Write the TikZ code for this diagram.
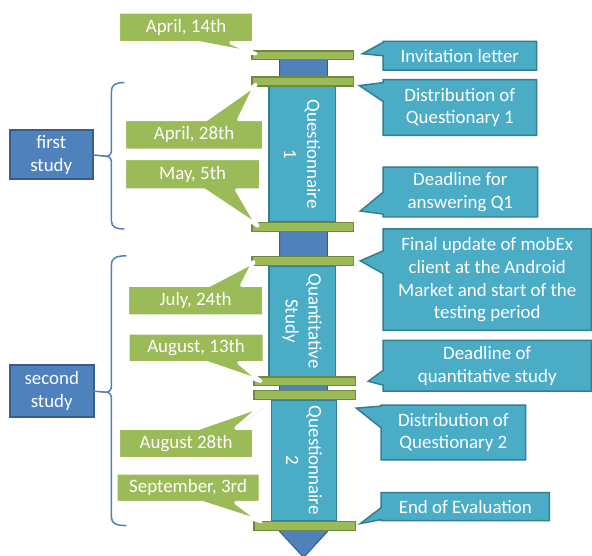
\documentclass[tikz,border=0pt]{standalone}
\usepackage{fontspec}
\setmainfont{Carlito}
\usetikzlibrary{calc,shadows}
\definecolor{gfill}{HTML}{9BBB59}
\definecolor{gline}{HTML}{71893F}
\definecolor{tfill}{HTML}{4BACC6}
\definecolor{tline}{HTML}{357D91}
\definecolor{bfill}{HTML}{4F81BD}
\definecolor{bline}{HTML}{385D8A}
\pgfdeclarelayer{bg}
\pgfdeclarelayer{mid}
\pgfsetlayers{bg,mid,main}
% callout outlines built on a text node: node, base1, base2, tip, style
\newcommand\pbottom[5]{\path[#5] (#1.north west) -- (#1.north east) -- (#1.south east) -- ($(#1.south west)+(#3,0)$) -- (#4) -- ($(#1.south west)+(#2,0)$) -- (#1.south west) -- cycle;}
\newcommand\ptop[5]{\path[#5] (#1.south west) -- (#1.north west) -- ($(#1.north west)+(#2,0)$) -- (#4) -- ($(#1.north west)+(#3,0)$) -- (#1.north east) -- (#1.south east) -- cycle;}
\newcommand\pleft[5]{\path[#5] (#1.north east) -- (#1.south east) -- (#1.south west) -- ($(#1.north west)+(0,#3)$) -- (#4) -- ($(#1.north west)+(0,#2)$) -- (#1.north west) -- cycle;}
\tikzset{
  txt/.style={font=\fontsize{19}{23}\selectfont, text=white, align=center, inner sep=0pt, outer sep=0pt},
  gcall/.style={fill=gfill, draw=white, line width=3.5, line join=round,
    drop shadow={opacity=0.25, shadow xshift=1.5pt, shadow yshift=-1.5pt}},
  tcall/.style={fill=tfill, draw=tline, line width=1.5},
  bar/.style={rectangle, fill=gfill, draw=gline, line width=1.5, inner sep=0pt, outer sep=0pt, minimum width=102, minimum height=9},
  phase/.style={txt, rectangle, fill=tfill, draw=tline, line width=1.5, rotate=-90},
  lbox/.style={txt, rectangle, fill=bfill, draw=bline, line width=2},
  brace/.style={draw=bfill, line width=1.5},
}
\begin{document}
\begin{tikzpicture}[x=1pt, y=-1pt]
\begin{pgfonlayer}{bg}
  \path[use as bounding box, fill=white] (0,0) rectangle (592,558);
  % spine arrow
  \path[fill=bfill, draw=bline, line width=1] (281,56) -- (329,56) -- (329,534) -- (305,560) -- (281,534) -- cycle;
  % phases
  \node[phase, minimum width=136, minimum height=67] (q1) at (303.5,155) {Questionnaire\\1};
  \node[phase, minimum width=111, minimum height=67] (qs) at (303.5,322.5) {Quantitative\\Study};
  \node[phase, minimum width=121, minimum height=65] (q2) at (305.5,462.5) {Questionnaire\\2};
  % bars
  \node[bar] (b1) at (304,55.5) {};
  \node[bar] (b2) at (304,82) {};
  \node[bar] (b3) at (304,228) {};
  \node[bar] (b4) at (304,262) {};
  \node[bar] (b5) at (306,383) {};
  \node[bar] (b6) at (306,397) {};
  \node[bar] (b7) at (306,528.5) {};
\end{pgfonlayer}

% green date callouts (text nodes)
\node[txt, minimum width=136, minimum height=31] (d1) at (187,27.5) {April, 14th};
\node[txt, minimum width=140, minimum height=31] (d2) at (195,135.5) {April, 28th};
\node[txt, minimum width=137, minimum height=32] (d3) at (193.5,175) {May, 5th};
\node[txt, minimum width=137, minimum height=31] (d4) at (196.5,302) {July, 24th};
\node[txt, minimum width=137, minimum height=30] (d5) at (197,349.5) {August, 13th};
\node[txt, minimum width=136, minimum height=31] (d6) at (187,445.5) {August 28th};
\node[txt, minimum width=145, minimum height=30] (d7) at (189,490) {September, 3rd};

% teal event callouts (text nodes)
\node[txt, minimum width=154, minimum height=29] (r1) at (462,56) {Invitation letter};
\node[txt, minimum width=154, minimum height=56] (r2) at (462,108) {Distribution of\\Questionary 1};
\node[txt, minimum width=155, minimum height=50] (r3) at (462.5,193) {Deadline for\\answering Q1};
\node[txt, minimum width=209, minimum height=102] (r4) at (489.5,281) {Final update of mobEx\\client at the Android\\Market and start of the\\testing period};
\node[txt, minimum width=209, minimum height=51] (r5) at (489.5,367.5) {Deadline of\\quantitative study};
\node[txt, minimum width=145, minimum height=55] (r6) at (455.5,434.5) {Distribution of\\Questionary 2};
\node[txt, minimum width=169, minimum height=28] (r7) at (467.5,509) {End of Evaluation};

% pointer tips
\coordinate (t1) at (257,54);
\coordinate (t2) at (257,85);
\coordinate (t3) at (259,227);
\coordinate (t4) at (255,263);
\coordinate (t5) at (262,383);
\coordinate (t6) at (263,408);
\coordinate (t7) at (262,524);
\coordinate (u1) at (364,54);
\coordinate (u2) at (361,86);
\coordinate (u3) at (362,212);
\coordinate (u4) at (362,262);
\coordinate (u5) at (370,383);
\coordinate (u6) at (358,410);
\coordinate (u7) at (362,526);

\begin{pgfonlayer}{mid}
  \pbottom{d1}{81}{113}{t1}{gcall}
  \ptop{d2}{82}{115}{t2}{gcall}
  \pbottom{d3}{80}{113}{t3}{gcall}
  \ptop{d4}{82}{115}{t4}{gcall}
  \pbottom{d5}{79.5}{111.5}{t5}{gcall}
  \ptop{d6}{81}{118}{t6}{gcall}
  \pbottom{d7}{86.5}{120.5}{t7}{gcall}
  \pleft{r1}{1}{14.5}{u1}{tcall}
  \pleft{r2}{3}{22}{u2}{tcall}
  \pleft{r3}{25}{47}{u3}{tcall}
  \pleft{r4}{22}{45}{u4}{tcall}
  \pleft{r5}{30}{45}{u5}{tcall}
  \pleft{r6}{1}{23}{u6}{tcall}
  \pleft{r7}{15}{27}{u7}{tcall}
\end{pgfonlayer}

% study labels
\node[lbox, minimum width=83, minimum height=49] (s1) at (51.5,155.5) {first\\study};
\node[lbox, minimum width=84, minimum height=52] (s2) at (52,393) {second\\study};

% braces
\coordinate (k1) at (106,157);
\coordinate (k2) at (106,394);
\draw[brace] (125,83) .. controls (116,83) and (112,85) .. (112,92) -- (112,150)
  .. controls (112,155) and (110,157) .. (k1) .. controls (110,157) and (112,159) .. (112,164)
  -- (112,222) .. controls (112,228) and (116,230) .. (125,230);
\draw[brace] (127,257) .. controls (117,257) and (112,259) .. (112,266) -- (112,387)
  .. controls (112,392) and (110,394) .. (k2) .. controls (110,394) and (112,396) .. (112,401)
  -- (112,520) .. controls (112,526) and (117,528) .. (127,528);
\draw[brace] (s1.east) -- (k1);
\draw[brace] (s2.east) -- (k2);
\end{tikzpicture}
\end{document}
